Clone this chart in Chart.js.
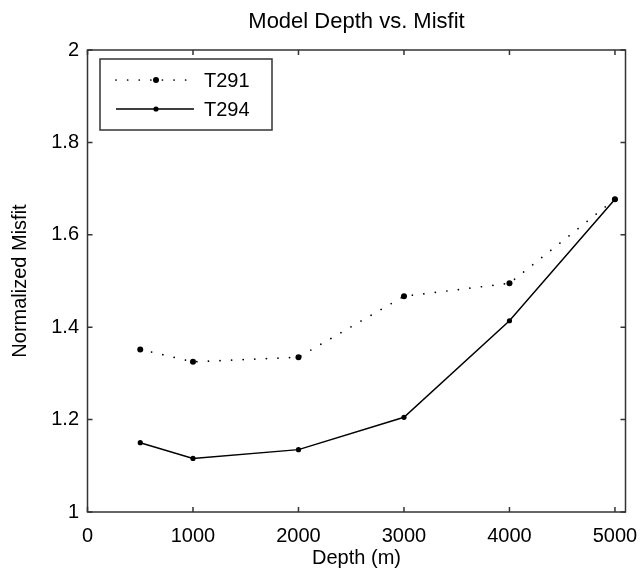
<!DOCTYPE html>
<html>
<head>
<meta charset="utf-8">
<script src="https://cdn.jsdelivr.net/npm/chart.js@4/dist/chart.umd.min.js"></script>
<style>
html, body { margin: 0; padding: 0; background: #fff; }
</style>
</head>
<body>
<canvas id="chart" width="641" height="576"></canvas>
<script>
const depths = [500, 1000, 2000, 3000, 4000, 5000];
const t291 = [1.352, 1.325, 1.335, 1.467, 1.495, 1.677];
const t294 = [1.150, 1.116, 1.135, 1.205, 1.414, 1.677];
const xTicks = [0, 1000, 2000, 3000, 4000, 5000];
const yTicks = [1, 1.2, 1.4, 1.6, 1.8, 2];
const seriesNames = ['T291', 'T294'];
const chartTitle = 'Model Depth vs. Misfit';

const FONT = '"Liberation Sans", Arial, Helvetica, sans-serif';

// box round the axes, inward ticks on all four sides, title centred on the axes
const framePlugin = {
    id: 'frame',
    afterDraw(chart) {
        const { ctx, chartArea: a, scales } = chart;
        ctx.save();
        ctx.strokeStyle = '#333';
        ctx.lineWidth = 1.5;
        ctx.strokeRect(a.left, a.top, a.right - a.left, a.bottom - a.top);
        ctx.beginPath();
        const len = 5;
        xTicks.forEach(v => {
            const px = scales.x.getPixelForValue(v);
            ctx.moveTo(px, a.bottom); ctx.lineTo(px, a.bottom - len);
            ctx.moveTo(px, a.top); ctx.lineTo(px, a.top + len);
        });
        yTicks.forEach(v => {
            const py = scales.y.getPixelForValue(v);
            ctx.moveTo(a.left, py); ctx.lineTo(a.left + len, py);
            ctx.moveTo(a.right, py); ctx.lineTo(a.right - len, py);
        });
        ctx.stroke();

        ctx.fillStyle = '#000';
        ctx.font = '22px ' + FONT;
        ctx.textAlign = 'center';
        ctx.textBaseline = 'middle';
        ctx.fillText(chartTitle, (a.left + a.right) / 2, 22);
        ctx.restore();
    }
};

// legend box in the upper left corner of the plot
const boxLegend = {
    id: 'boxLegend',
    afterDraw(chart) {
        const { ctx } = chart;
        const left = 100, top = 59, w = 172, h = 71;
        ctx.save();
        ctx.fillStyle = '#fff';
        ctx.fillRect(left, top, w, h);
        ctx.strokeStyle = '#333';
        ctx.lineWidth = 1.5;
        ctx.strokeRect(left, top, w, h);
        chart.data.datasets.forEach((ds, i) => {
            const y = top + 21 + i * 29;
            ctx.strokeStyle = ds.borderColor;
            ctx.lineWidth = ds.borderWidth;
            ctx.lineCap = ds.borderCapStyle || 'butt';
            ctx.setLineDash(ds.borderDash || []);
            ctx.beginPath();
            ctx.moveTo(116, y); ctx.lineTo(194, y);
            ctx.stroke();
            ctx.setLineDash([]);
            ctx.fillStyle = ds.pointBackgroundColor;
            ctx.beginPath();
            ctx.arc(156, y, ds.pointRadius, 0, Math.PI * 2);
            ctx.fill();
            ctx.fillStyle = '#000';
            ctx.font = '20px ' + FONT;
            ctx.textBaseline = 'middle';
            ctx.fillText(ds.label, 204, y + 1);
        });
        ctx.restore();
    }
};

const toPoints = vals => vals.map((v, i) => ({ x: depths[i], y: v }));

new Chart(document.getElementById('chart'), {
    type: 'scatter',
    data: {
        datasets: [{
            label: seriesNames[0],
            data: toPoints(t291),
            showLine: true,
            borderColor: '#000',
            borderWidth: 1.7,
            borderDash: [0.1, 11.5],
            borderCapStyle: 'round',
            pointRadius: 3,
            pointBackgroundColor: '#000',
            pointBorderWidth: 0
        }, {
            label: seriesNames[1],
            data: toPoints(t294),
            showLine: true,
            borderColor: '#000',
            borderWidth: 1.5,
            pointRadius: 2.6,
            pointBackgroundColor: '#000',
            pointBorderWidth: 0
        }]
    },
    options: {
        responsive: false,
        animation: false,
        devicePixelRatio: 1,
        layout: { padding: { left: 0, right: 15.5, top: 50, bottom: 0 } },
        plugins: {
            legend: { display: false },
            tooltip: { enabled: false },
            title: { display: false }
        },
        scales: {
            x: {
                type: 'linear',
                min: 0,
                max: 5100,
                afterBuildTicks: s => { s.ticks = xTicks.map(v => ({ value: v })); },
                afterFit: s => { s.height = 64; s.paddingLeft = 0; s.paddingRight = 0; },
                grid: { display: false, drawTicks: false },
                border: { display: false },
                ticks: {
                    color: '#000',
                    padding: 12,
                    maxRotation: 0,
                    font: { family: FONT, size: 20 },
                    callback: v => String(v)
                },
                title: {
                    display: true,
                    text: 'Depth (m)',
                    color: '#000',
                    font: { family: FONT, size: 20 },
                    padding: { top: 0, bottom: 6 }
                }
            },
            y: {
                min: 1,
                max: 2,
                afterBuildTicks: s => { s.ticks = yTicks.map(v => ({ value: v })); },
                afterFit: s => { s.width = 87.5; s.paddingTop = 0; s.paddingBottom = 0; },
                grid: { display: false, drawTicks: false },
                border: { display: false },
                ticks: {
                    color: '#000',
                    padding: 8.5,
                    font: { family: FONT, size: 20 },
                    callback: v => String(Math.round(v * 10) / 10)
                },
                title: {
                    display: true,
                    text: 'Normalized Misfit',
                    color: '#000',
                    font: { family: FONT, size: 20 },
                    padding: { top: 8, bottom: 0 }
                }
            }
        }
    },
    plugins: [framePlugin, boxLegend]
});
</script>
</body>
</html>
